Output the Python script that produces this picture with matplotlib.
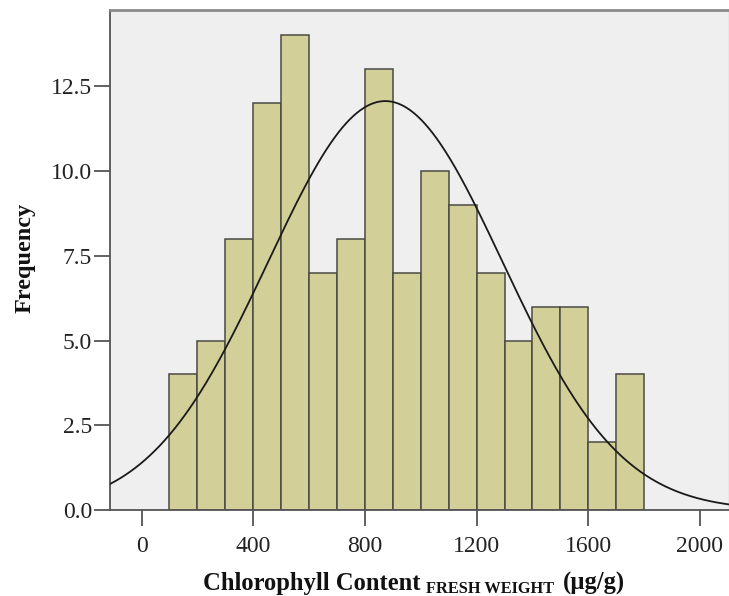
import numpy as np
import matplotlib
matplotlib.use("Agg")
import matplotlib.pyplot as plt
from matplotlib.transforms import offset_copy

plt.rcParams['font.family'] = ['Liberation Serif', 'DejaVu Serif']

# histogram bins (µg/g) and counts
bin_edges = [100, 200, 300, 400, 500, 600, 700, 800, 900, 1000,
             1100, 1200, 1300, 1400, 1500, 1600, 1700, 1800]
counts = [4, 5, 8, 12, 14, 7, 8, 13, 7, 10, 9, 7, 5, 6, 6, 2, 4]

# fitted normal curve
mean = 873
std_dev = 420

x_ticks = [0, 400, 800, 1200, 1600, 2000]
y_ticks = [0.0, 2.5, 5.0, 7.5, 10.0, 12.5]

W, H = 729, 596
fig = plt.figure(figsize=(W / 100, H / 100), dpi=100)
ax = fig.add_axes([110 / W, 1 - 510 / H, 619 / W, 500 / H])
ax.set_facecolor('#efefef')

lefts = bin_edges[:-1]
widths = np.diff(bin_edges)
ax.bar(lefts, counts, width=widths, align='edge', color='#d3cf98',
       edgecolor='#4a4a44', linewidth=1.1, zorder=2)

xmin, xmax = -113, 2104
n = sum(counts)
bw = widths[0]
xs = np.linspace(xmin, xmax, 500)
ys = n * bw / (std_dev * np.sqrt(2 * np.pi)) * np.exp(-0.5 * ((xs - mean) / std_dev) ** 2)
ax.plot(xs, ys, color='#1a1a1a', linewidth=1.3, zorder=3)

ax.set_xlim(xmin, xmax)
ax.set_ylim(0, 14.75)
ax.set_xticks(x_ticks)
ax.set_xticklabels([str(t) for t in x_ticks])
ax.set_yticks(y_ticks)
ax.set_yticklabels([f"{t:.1f}" for t in y_ticks])
ax.tick_params(axis='both', direction='out', length=11.5, width=1.3,
               color='#555555', labelsize=17, labelcolor='#222222')
ax.tick_params(axis='y', pad=1.5)
ax.tick_params(axis='x', pad=7)

for side in ['left', 'bottom']:
    ax.spines[side].set_color('#555555')
    ax.spines[side].set_linewidth(1.3)
ax.spines['top'].set_color('#8a8a8a')
ax.spines['top'].set_linewidth(2)
ax.spines['right'].set_color('#c8c8c8')
ax.spines['right'].set_linewidth(1)

# y label
fig.text(25 / W, 1 - 258 / H, 'Frequency', rotation=90, ha='center', va='center',
         fontsize=17.5, fontweight='bold', color='#111111')

# x label with subscript, built from pieces
renderer = fig.canvas.get_renderer()
base_y = 1 - 590 / H
t1 = fig.text(203 / W, base_y, 'Chlorophyll Content', fontsize=17.7,
              fontweight='bold', va='baseline', color='#111111')
ext = t1.get_window_extent(renderer)
x2 = (ext.x1 + 5) / W
t2 = fig.text(x2, base_y, 'FRESH WEIGHT', fontsize=11.8, fontweight='bold',
              va='baseline', color='#111111',
              transform=offset_copy(fig.transFigure, fig=fig, y=-3, units='dots'))
ext2 = t2.get_window_extent(renderer)
fig.text((ext2.x1 + 9) / W, base_y, '(µg/g)', fontsize=17.7, fontweight='bold',
         va='baseline', color='#111111')

fig.savefig('out.png', dpi=100)
